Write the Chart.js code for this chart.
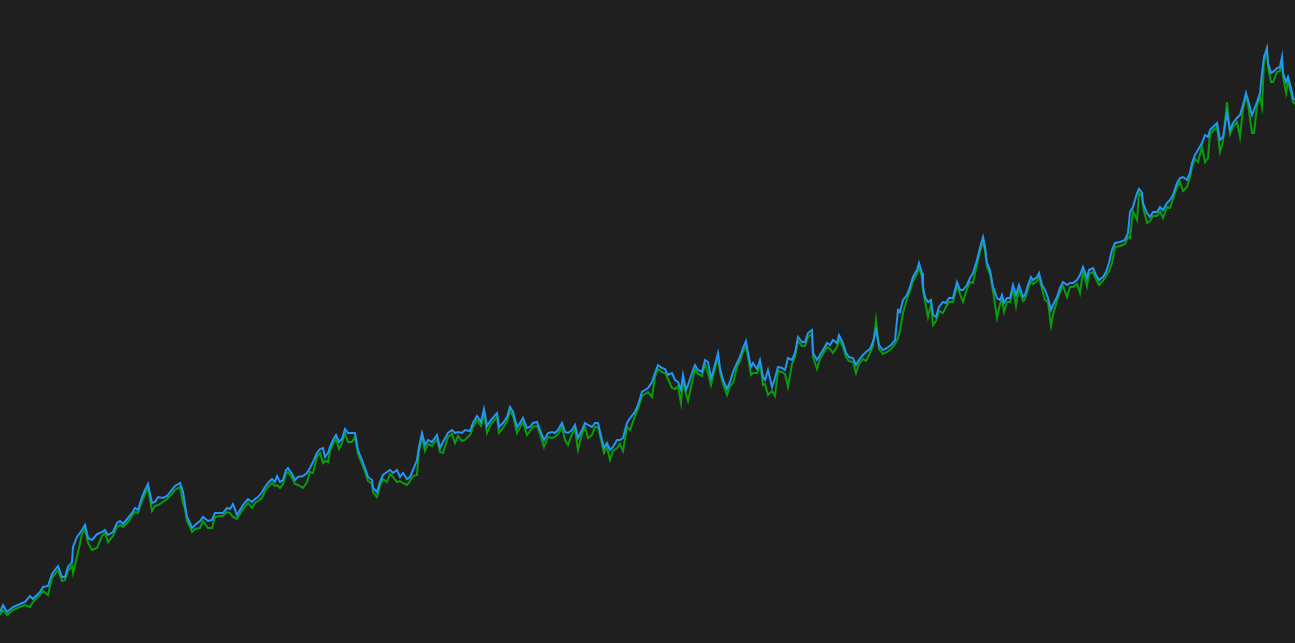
<!DOCTYPE html>
<html>
<head>
<meta charset="utf-8">
<script src="https://cdn.jsdelivr.net/npm/chart.js@4"></script>
<style>
  html, body { margin: 0; padding: 0; background: #1f1f1f; overflow: hidden; }
  #chart { display: block; }
</style>
</head>
<body>
<canvas id="chart" width="1295" height="643"></canvas>
<script>
// day index of each sample
const days = [
  0, 3, 7, 13, 20, 25, 30, 33, 40, 43, 48, 52, 58, 62, 65, 68, 72, 73, 77, 82,
  85, 88, 92, 97, 102, 105, 108, 113, 117, 120, 123, 128, 132, 135, 138, 142, 145, 148, 152, 155,
  158, 163, 167, 170, 175, 180, 183, 185, 187, 190, 192, 195, 200, 203, 208, 212, 215, 220, 223, 227,
  230, 233, 237, 240, 243, 248, 252, 255, 258, 262, 265, 268, 272, 275, 277, 280, 283, 286, 288, 292,
  295, 298, 303, 307, 310, 313, 317, 320, 323, 325, 328, 330, 333, 336, 339, 342, 345, 348, 352, 355,
  358, 362, 365, 368, 372, 373, 377, 380, 383, 387, 390, 393, 397, 400, 403, 407, 410, 413, 417, 419,
  422, 425, 428, 432, 437, 440, 443, 448, 452, 455, 458, 462, 465, 470, 473, 477, 481, 484, 487, 491,
  497, 499, 503, 507, 510, 513, 517, 520, 523, 527, 530, 533, 537, 540, 544, 548, 552, 555, 558, 562,
  565, 568, 572, 575, 578, 582, 585, 588, 592, 595, 598, 602, 604, 607, 610, 613, 617, 620, 623, 627,
  630, 635, 638, 642, 645, 648, 652, 655, 658, 662, 665, 668, 672, 675, 678, 681, 683, 686, 688, 692,
  695, 698, 702, 705, 708, 711, 713, 717, 718, 720, 723, 727, 730, 733, 737, 740, 743, 746, 748, 751,
  753, 757, 760, 763, 765, 768, 772, 775, 778, 782, 785, 788, 792, 795, 798, 802, 805, 808, 812, 813,
  817, 820, 823, 827, 830, 833, 837, 839, 843, 846, 849, 853, 856, 859, 863, 866, 870, 873, 876, 879,
  883, 887, 891, 895, 898, 900, 903, 907, 910, 913, 917, 919, 922, 923, 925, 928, 931, 933, 936, 939,
  943, 946, 949, 953, 957, 960, 963, 967, 970, 973, 977, 980, 983, 985, 987, 990, 993, 997, 1000, 1002,
  1004, 1007, 1010, 1013, 1016, 1019, 1023, 1025, 1028, 1031, 1033, 1037, 1039, 1042, 1045, 1048, 1051, 1053, 1057, 1060,
  1063, 1067, 1070, 1073, 1077, 1080, 1083, 1087, 1089, 1093, 1096, 1099, 1103, 1106, 1109, 1112, 1115, 1120, 1125, 1128,
  1130, 1133, 1137, 1139, 1142, 1143, 1147, 1150, 1153, 1157, 1160, 1163, 1167, 1170, 1173, 1177, 1180, 1183, 1187, 1190,
  1192, 1195, 1198, 1202, 1205, 1208, 1210, 1213, 1217, 1220, 1223, 1227, 1230, 1233, 1237, 1240, 1243, 1246, 1248, 1252,
  1254, 1257, 1260, 1262, 1264, 1267, 1268, 1271, 1273, 1277, 1280, 1282, 1283, 1286, 1288, 1291, 1293, 1295
];

// blue series
const mainValues = [
  31, 38, 31, 36, 39, 41, 47, 44, 51, 56, 57, 69, 77, 66, 66, 76, 81, 96, 106, 113,
  118, 105, 103, 109, 111, 113, 108, 111, 120, 122, 119, 125, 130, 135, 133, 146, 153, 159, 140, 141,
  146, 145, 147, 151, 157, 160, 151, 138, 126, 120, 115, 118, 122, 126, 122, 123, 130, 130, 130, 135,
  134, 139, 128, 133, 138, 144, 141, 144, 146, 151, 156, 160, 164, 161, 167, 161, 163, 173, 175, 169,
  163, 166, 167, 170, 175, 181, 190, 194, 195, 186, 190, 196, 203, 208, 201, 204, 214, 210, 210, 210,
  193, 183, 175, 166, 163, 155, 151, 161, 168, 171, 173, 170, 173, 166, 170, 164, 166, 173, 183, 196,
  210, 198, 203, 201, 208, 195, 201, 210, 213, 210, 211, 210, 213, 212, 220, 227, 221, 234, 217, 223,
  230, 216, 220, 226, 236, 231, 216, 220, 225, 215, 216, 220, 221, 213, 203, 210, 211, 210, 213, 220,
  211, 210, 213, 218, 205, 213, 220, 218, 216, 220, 220, 203, 195, 200, 193, 196, 203, 203, 205, 220,
  225, 231, 238, 251, 253, 255, 261, 270, 278, 275, 274, 268, 270, 263, 261, 253, 268, 253, 258, 270,
  278, 273, 271, 283, 281, 265, 271, 286, 290, 275, 263, 254, 261, 271, 280, 286, 295, 302, 290, 276,
  280, 274, 283, 266, 263, 273, 256, 265, 276, 275, 273, 285, 283, 290, 306, 301, 301, 310, 313, 290,
  283, 288, 293, 300, 298, 303, 300, 308, 300, 290, 286, 285, 278, 283, 288, 291, 294, 301, 313, 298,
  293, 295, 298, 303, 333, 331, 343, 348, 356, 366, 373, 380, 370, 356, 346, 341, 343, 328, 326, 336,
  341, 340, 345, 345, 361, 353, 353, 358, 365, 370, 383, 395, 406, 396, 380, 373, 356, 345, 343, 348,
  340, 345, 345, 358, 348, 358, 346, 348, 358, 366, 363, 366, 370, 358, 353, 345, 333, 338, 346, 355,
  361, 358, 360, 360, 363, 368, 376, 365, 373, 375, 368, 363, 366, 371, 380, 393, 400, 401, 403, 410,
  431, 436, 450, 454, 450, 440, 430, 426, 431, 431, 436, 433, 440, 443, 448, 460, 465, 466, 463, 470,
  480, 488, 493, 500, 508, 506, 513, 516, 520, 503, 506, 530, 513, 520, 525, 528, 538, 550, 543, 528,
  533, 541, 550, 570, 586, 595, 580, 570, 571, 575, 576, 586, 570, 561, 566, 555, 545, 543
];

// green series
const lowValues = [
  28, 33, 28, 33, 36, 38, 36, 41, 48, 52, 48, 65, 73, 62, 63, 72, 77, 70, 86, 109,
  114, 100, 93, 95, 107, 110, 101, 107, 116, 118, 116, 121, 127, 131, 130, 142, 149, 155, 132, 137,
  138, 141, 144, 147, 153, 156, 140, 134, 122, 116, 111, 114, 115, 122, 115, 115, 126, 127, 127, 131,
  130, 126, 124, 129, 134, 140, 135, 140, 142, 145, 152, 156, 160, 157, 158, 155, 159, 169, 171, 165,
  159, 158, 155, 161, 171, 170, 186, 190, 180, 182, 181, 192, 199, 204, 194, 200, 210, 201, 201, 206,
  189, 179, 171, 162, 159, 151, 146, 157, 164, 161, 169, 166, 161, 162, 160, 158, 162, 167, 168, 192,
  206, 192, 199, 197, 204, 191, 190, 206, 209, 200, 207, 202, 203, 208, 216, 223, 217, 230, 210, 219,
  226, 210, 215, 222, 232, 227, 210, 216, 221, 208, 212, 216, 217, 209, 196, 206, 205, 206, 209, 216,
  203, 198, 209, 214, 193, 209, 216, 205, 208, 216, 216, 199, 190, 196, 183, 192, 195, 199, 192, 216,
  213, 227, 234, 247, 249, 251, 246, 266, 274, 271, 270, 264, 255, 254, 257, 240, 264, 249, 242, 260,
  274, 269, 267, 279, 270, 258, 267, 282, 286, 271, 259, 248, 257, 260, 276, 282, 291, 298, 286, 268,
  270, 270, 279, 258, 259, 248, 252, 247, 272, 271, 269, 256, 279, 286, 302, 297, 297, 306, 309, 286,
  274, 284, 289, 296, 294, 290, 296, 304, 296, 286, 282, 281, 270, 279, 284, 282, 290, 297, 323, 294,
  289, 291, 294, 299, 305, 312, 330, 344, 352, 362, 369, 376, 366, 352, 342, 326, 339, 318, 322, 332,
  330, 336, 341, 341, 357, 349, 341, 354, 361, 360, 379, 391, 402, 392, 376, 369, 352, 325, 339, 344,
  331, 341, 341, 354, 337, 354, 342, 344, 354, 362, 359, 362, 366, 354, 343, 341, 317, 328, 342, 351,
  357, 346, 356, 356, 359, 350, 372, 357, 369, 371, 364, 358, 362, 367, 372, 380, 396, 397, 399, 406,
  405, 432, 423, 450, 446, 436, 420, 422, 427, 427, 432, 425, 436, 435, 444, 456, 461, 452, 456, 466,
  476, 484, 481, 496, 481, 485, 509, 512, 516, 491, 502, 541, 509, 516, 521, 506, 534, 546, 539, 510,
  510, 537, 546, 536, 582, 591, 576, 561, 561, 571, 572, 582, 566, 550, 562, 550, 541, 539
];

const BG = '#1f1f1f';
const BLUE = '#2196f3';
const GREEN = '#0a9c0a';

const toPoints = (values) => days.map((d, i) => ({ x: d, y: values[i] }));

const ctx = document.getElementById('chart');

new Chart(ctx, {
  type: 'line',
  data: {
    datasets: [
      {
        label: 'main',
        data: toPoints(mainValues),
        borderColor: BLUE,
        borderWidth: 2,
        pointRadius: 0,
        tension: 0,
        fill: false,
        order: 0
      },
      {
        label: 'low',
        data: toPoints(lowValues),
        borderColor: GREEN,
        borderWidth: 2,
        pointRadius: 0,
        tension: 0,
        fill: false,
        order: 1
      }
    ]
  },
  options: {
    responsive: false,
    animation: false,
    layout: { padding: 0 },
    plugins: {
      legend: { display: false },
      tooltip: { enabled: false }
    },
    scales: {
      x: { type: 'linear', min: 0, max: 1295, display: false },
      y: { min: 0, max: 643, display: false }
    }
  }
});
</script>
</body>
</html>
